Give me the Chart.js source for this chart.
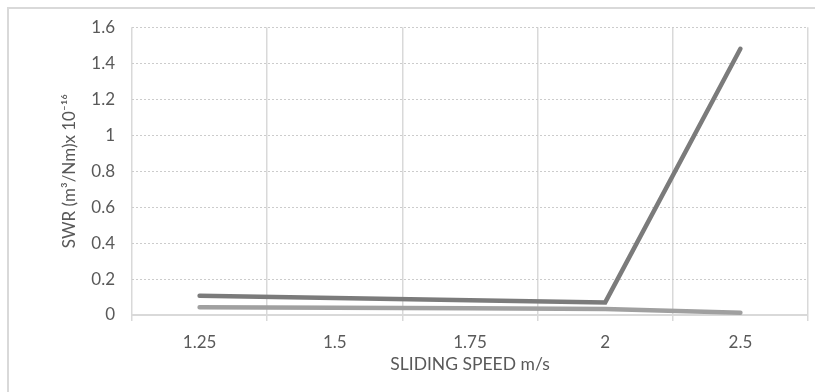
<!DOCTYPE html>
<html>
<head>
<meta charset="utf-8">
<script src="https://cdn.jsdelivr.net/npm/chart.js@4/dist/chart.umd.min.js"></script>
<style>
  html, body { margin: 0; padding: 0; background: #fff; }
  #wrap { position: relative; width: 815px; height: 392px; overflow: hidden; }
  #frame { position: absolute; left: 7px; top: 7px; width: 830px; height: 420px; border: 2px solid #d9d9d9; box-sizing: border-box; }
  canvas { position: absolute; left: 0; top: 0; }
</style>
</head>
<body>
<div id="wrap">
  <div id="frame"></div>
  <canvas id="chart" width="815" height="392"></canvas>
</div>
<script>
// sliding speed categories (m/s)
const speeds = ['1.25', '1.5', '1.75', '2', '2.5']
// specific wear rate, x 10^-16 m3/Nm
const swrUpper = [0.107, 0.094, 0.082, 0.070, 1.48]
const swrLower = [0.043, 0.040, 0.037, 0.034, 0.013]
const yTicks = [0, 0.2, 0.4, 0.6, 0.8, 1, 1.2, 1.4, 1.6]

const textColor = '#595959'
const gridColor = '#d9d9d9'
const fontFamily = 'Lato, "Open Sans", sans-serif'

const ctx = document.getElementById('chart').getContext('2d')

new Chart(ctx, {
  type: 'line',
  data: {
    labels: speeds,
    datasets: [
      {
        label: 'upper',
        data: swrUpper,
        borderColor: '#7b7b7b',
        borderWidth: 4.5,
        borderCapStyle: 'round',
        pointRadius: 0,
        tension: 0
      },
      {
        label: 'lower',
        data: swrLower,
        borderColor: '#a0a0a0',
        borderWidth: 4.5,
        borderCapStyle: 'round',
        pointRadius: 0,
        tension: 0
      }
    ]
  },
  options: {
    responsive: false,
    animation: false,
    layout: { padding: { left: 7, top: 27, right: 7, bottom: 0 } },
    plugins: {
      legend: { display: false },
      tooltip: { enabled: false }
    },
    scales: {
      x: {
        offset: true,
        grid: { offset: true, color: gridColor, lineWidth: 1.5, tickLength: 6, drawTicks: true },
        border: { color: gridColor, width: 2 },
        ticks: { color: textColor, padding: 11, font: { family: fontFamily, size: 17 } },
        title: {
          display: true,
          text: 'SLIDING SPEED m/s',
          color: textColor,
          font: { family: fontFamily, size: 17.5 },
          padding: { top: 0, bottom: 17 }
        },
        afterFit(scale) { scale.height = 77 }
      },
      y: {
        min: 0,
        max: 1.6,
        afterBuildTicks(scale) { scale.ticks = yTicks.map(v => ({ value: v })) },
        grid: { color: '#cccccc', lineWidth: 1, drawTicks: false },
        border: { display: false, dash: [2, 2] },
        ticks: {
          color: textColor,
          padding: 17,
          font: { family: fontFamily, size: 17 },
          callback: v => String(+v.toFixed(1))
        },
        title: {
          display: true,
          text: 'SWR (m³/Nm)x 10⁻¹⁶',
          color: textColor,
          font: { family: fontFamily, size: 17 },
          padding: { top: 52, bottom: 0 }
        },
        afterFit(scale) { scale.width = 125 }
      }
    }
  }
})
</script>
</body>
</html>
